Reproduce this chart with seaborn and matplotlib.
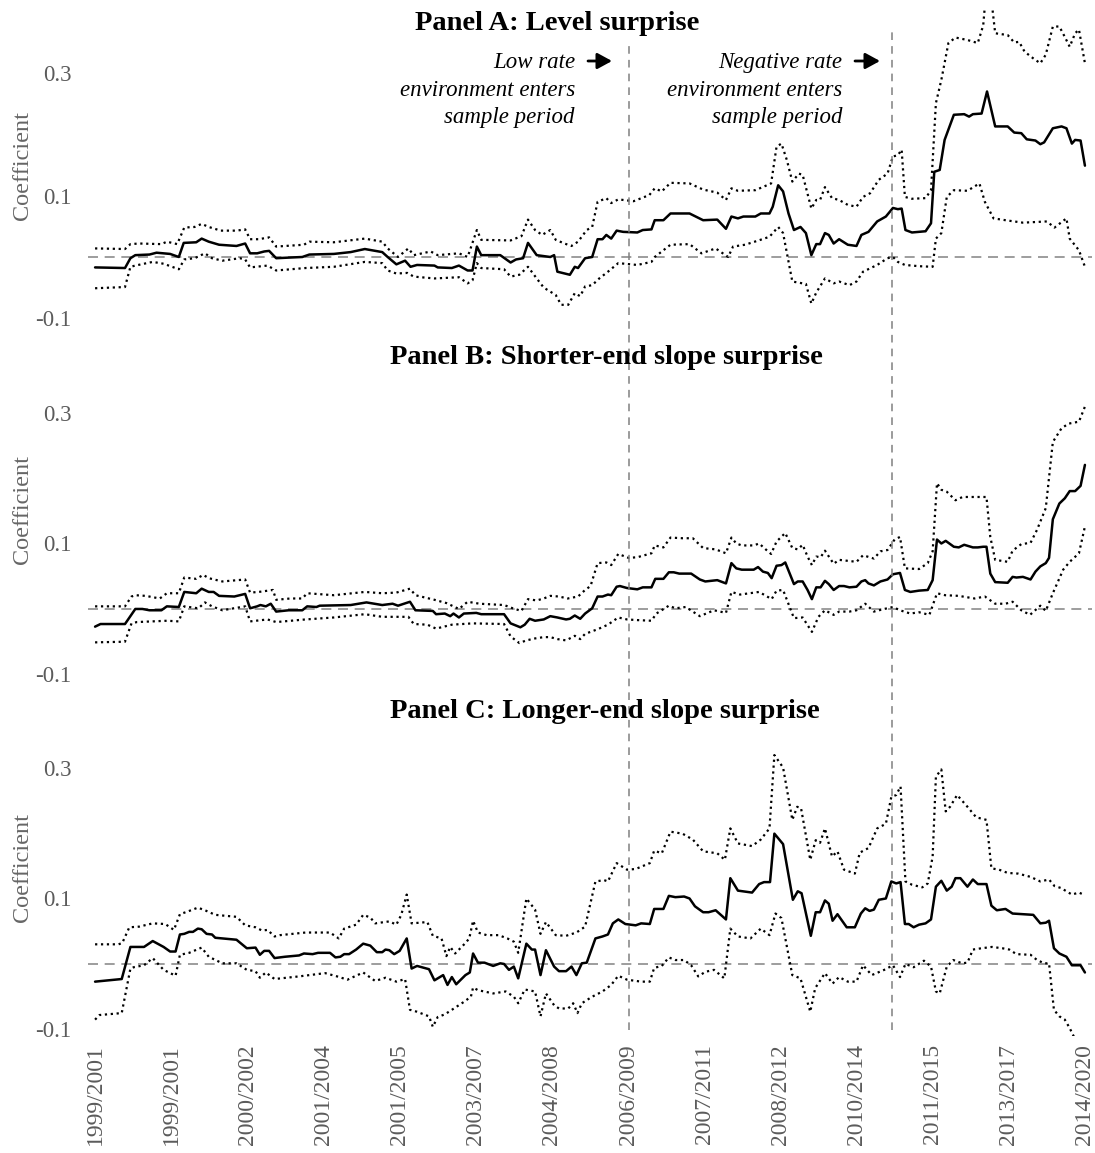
import numpy as np
import pandas as pd
import matplotlib
matplotlib.use("Agg")
import matplotlib.pyplot as plt
import seaborn as sns

sns.set_theme(style="white")
plt.rcParams["font.family"] = ["Liberation Serif", "DejaVu Serif"]

# rolling-window labels, one every 14 windows
tick_labels = ["1999/2001", "1999/2001", "2000/2002", "2001/2004", "2001/2005",
               "2003/2007", "2004/2008", "2006/2009", "2007/2011", "2008/2012",
               "2010/2014", "2011/2015", "2013/2017", "2014/2020"]
tick_pos = list(range(0, 183, 14))
low_rate_at = 98.1
negative_rate_at = 146.5

# (window index, value)
A_coef = [(0,-0.017),(5.5,-0.018),(6.5,-0.002),(7.4,0.003),(10,0.004),(11.3,0.007),(13.8,0.005),(15.4,0.0),
          (16.3,0.023),(18.6,0.024),(19.6,0.030),(20.9,0.025),(22.8,0.020),(26,0.018),(27.6,0.022),(28.5,0.006),
          (29.8,0.006),(31.1,0.009),(32,0.010),(33.3,-0.002),(35.6,-0.001),(38.1,0.0),(39.4,0.004),(43.9,0.005),
          (47,0.008),(49.6,0.013),(52.8,0.008),(53.8,0.0),(55.4,-0.012),(57,-0.006),(58,-0.016),(59.2,-0.013),
          (62.4,-0.014),(63,-0.017),(65.6,-0.018),(66.9,-0.014),(68.5,-0.022),(69.4,-0.022),(70.2,0.017),(71,0.003),
          (74.5,0.003),(76.4,-0.009),(77.4,-0.004),(78.7,-0.002),(79.6,0.023),(81.2,0.003),(83.7,0.0),(84.4,0.003),
          (85,-0.024),(87.3,-0.029),(88.2,-0.016),(88.8,-0.018),(90.1,-0.002),(91.4,0.0),(92.4,0.029),(93.3,0.029),
          (94,0.036),(94.9,0.030),(95.9,0.043),(97.1,0.041),(99.7,0.040),(100.7,0.044),(102.3,0.045),(102.9,0.060),
          (104.5,0.060),(105.8,0.071),(109.3,0.071),(111.8,0.060),(114.4,0.061),(116,0.046),(117,0.066),(118.2,0.063),
          (119.2,0.066),(121.4,0.066),(122.4,0.071),(124,0.071),(124.6,0.082),(125.6,0.117),(126.5,0.107),(127.5,0.071),
          (128.5,0.044),(129.7,0.049),(130.7,0.039),(131.7,0.003),(132.6,0.021),(133.3,0.021),(134.2,0.039),(134.9,0.036),
          (135.8,0.022),(136.8,0.029),(138.4,0.020),(140,0.018),(140.9,0.036),(142.2,0.041),(143.8,0.058),(145.4,0.066),
          (146.7,0.080),(147.6,0.078),(148.3,0.079),(149,0.044),(150.2,0.040),(152.7,0.042),(153.7,0.055),(154.3,0.139),
          (155.3,0.142),(156.2,0.191),(157.9,0.232),(159.8,0.233),(160.7,0.229),(161.4,0.233),(163,0.234),(164,0.270),
          (165.5,0.213),(167.8,0.213),(169,0.203),(170.3,0.202),(171.3,0.192),(172.9,0.190),(173.8,0.184),(174.5,0.187),
          (176.1,0.210),(177.7,0.213),(178.6,0.210),(179.6,0.185),(180.2,0.191),(181.2,0.190),(182,0.149)]
A_hi = [(0,0.014),(5.5,0.013),(6.5,0.021),(8.1,0.022),(12.2,0.021),(13.2,0.025),(15.1,0.021),(16.4,0.048),
        (18.3,0.049),(19.6,0.054),(20.9,0.049),(23.1,0.043),(26,0.043),(27.6,0.045),(28.5,0.029),(30.1,0.029),
        (32,0.032),(33.3,0.017),(38.4,0.020),(39.4,0.025),(43.9,0.024),(49.6,0.030),(52.8,0.025),(53.8,0.014),
        (55.7,0.0),(57.6,0.014),(58.6,0.003),(61.7,0.009),(63,0.003),(66.9,0.006),(68.5,0.0),(70.2,0.044),(71,0.028),
        (76.4,0.027),(78.4,0.034),(79.6,0.061),(80.9,0.044),(82.2,0.036),(83.7,0.044),(84.7,0.028),(86.3,0.022),
        (87.6,0.018),(88.8,0.025),(90.4,0.044),(91.4,0.049),(92.4,0.090),(94,0.096),(94.9,0.088),(96.2,0.094),
        (99,0.091),(101.9,0.101),(102.9,0.112),(104.2,0.107),(105.8,0.121),(109.3,0.120),(111.8,0.110),(114.4,0.105),
        (116,0.093),(117,0.112),(118.2,0.108),(121.4,0.109),(123,0.115),(124.3,0.120),(125.3,0.180),(126.2,0.185),
        (127.2,0.158),(128.2,0.123),(129.4,0.136),(130.1,0.134),(131.7,0.079),(132.6,0.093),(133.3,0.093),(134.2,0.114),
        (135.5,0.096),(136.8,0.093),(138.4,0.085),(140,0.082),(141.2,0.098),(142.5,0.104),(144.1,0.126),(145.7,0.136),
        (146.7,0.164),(147.6,0.166),(148.3,0.175),(148.9,0.098),(150.2,0.095),(152.7,0.096),(153.7,0.109),(154.6,0.251),
        (155.6,0.289),(156.9,0.349),(158.2,0.358),(160.4,0.354),(162.3,0.349),(163.3,0.378),(163.8,0.43),(164.8,0.42),
        (165.5,0.365),(167.8,0.362),(169,0.350),(169.9,0.351),(170.9,0.335),(172.5,0.324),(173.8,0.316),(174.8,0.330),
        (176.1,0.376),(177.3,0.376),(178.3,0.359),(179.2,0.343),(180.2,0.365),(180.9,0.371),(182,0.316)]
A_lo = [(0,-0.051),(5.5,-0.049),(6.5,-0.016),(7.4,-0.014),(10.6,-0.008),(12.6,-0.011),(15.4,-0.020),(16.4,-0.004),
        (18.3,-0.002),(20.2,0.006),(21.5,-0.002),(23.4,-0.006),(26.6,-0.002),(27.6,-0.004),(28.5,-0.017),(31.7,-0.014),
        (33.3,-0.022),(38.7,-0.018),(43.9,-0.016),(49.6,-0.008),(52.8,-0.010),(53.8,-0.022),(55.4,-0.027),(57.4,-0.026),
        (58.6,-0.032),(62.4,-0.035),(66.9,-0.033),(68.5,-0.043),(69.4,-0.038),(70.2,-0.010),(71,-0.018),(75.2,-0.020),
        (76.4,-0.032),(78,-0.029),(79.6,-0.016),(81.2,-0.035),(82.5,-0.050),(84.7,-0.062),(85.7,-0.078),(87,-0.078),
        (88.2,-0.059),(89.2,-0.064),(90.1,-0.048),(91.4,-0.046),(92.7,-0.035),(94.3,-0.024),(96.2,-0.010),(99.7,-0.013),
        (102.3,-0.008),(102.9,0.0),(105.8,0.020),(109.3,0.021),(111.5,0.006),(114.1,0.014),(116.4,0.0),(117.3,0.017),
        (119.5,0.020),(122,0.027),(124,0.033),(125.6,0.049),(126.5,0.039),(128.2,-0.040),(130.7,-0.044),(131.7,-0.076),
        (132.6,-0.058),(134.2,-0.035),(135.8,-0.043),(136.8,-0.040),(138.7,-0.046),(140,-0.040),(141.2,-0.024),
        (143.8,-0.013),(145.7,-0.002),(146.7,0.0),(147.6,-0.008),(148.9,-0.013),(151.5,-0.015),(154,-0.016),(154.6,0.030),
        (155.6,0.039),(156.6,0.098),(157.9,0.109),(160.4,0.108),(162.6,0.120),(163.6,0.090),(165.2,0.063),(167.4,0.060),
        (170.6,0.056),(175,0.058),(176.4,0.048),(178.6,0.063),(179.2,0.030),(180.9,0.011),(182,-0.016)]

B_coef = [(0,-0.027),(1,-0.023),(5.5,-0.023),(6.5,-0.011),(7.4,0.0),(8.7,0.0),(10,-0.002),(12.2,-0.002),(13.2,0.004),
          (15.4,0.003),(16.4,0.026),(18.6,0.024),(19.6,0.031),(20.9,0.026),(21.8,0.026),(22.8,0.020),(25.6,0.019),
          (27.6,0.023),(28.5,0.001),(29.8,0.004),(30.4,0.006),(31.4,0.004),(32.3,0.008),(33.3,-0.004),(35.6,-0.002),
          (38.1,-0.002),(39,0.004),(40.7,0.003),(41.3,0.005),(47,0.006),(49.9,0.010),(52.8,0.006),(54.7,0.008),
          (55.7,0.005),(57.9,0.011),(58.9,-0.002),(62.1,-0.003),(62.7,-0.008),(64.3,-0.007),(65.3,-0.011),(65.9,-0.007),
          (66.9,-0.013),(67.8,-0.007),(70.1,-0.006),(71,-0.008),(75.2,-0.008),(76.4,-0.022),(78.2,-0.028),(79,-0.024),
          (79.9,-0.015),(80.9,-0.018),(82.5,-0.016),(83.7,-0.011),(85,-0.013),(86.6,-0.016),(87.3,-0.015),(88.2,-0.010),
          (89.2,-0.015),(90.1,-0.007),(91.4,0.001),(92.4,0.019),(93.3,0.019),(94.3,0.022),(94.9,0.021),(95.9,0.034),
          (96.5,0.035),(97.8,0.032),(99.7,0.030),(100.7,0.033),(102.3,0.033),(103,0.046),(104.5,0.046),(105.5,0.056),
          (106.4,0.056),(107.4,0.054),(109.6,0.054),(111.2,0.045),(112.2,0.042),(114.4,0.044),(116,0.039),(117,0.070),
          (117.9,0.062),(118.9,0.060),(121.1,0.060),(121.9,0.064),(122.8,0.057),(123.7,0.055),(124.4,0.047),(125.3,0.066),
          (126.2,0.067),(126.9,0.071),(128.5,0.038),(129.2,0.042),(130.1,0.042),(131,0.029),(131.8,0.015),(132.6,0.033),
          (133.4,0.033),(134.2,0.043),(134.9,0.038),(135.8,0.029),(136.8,0.035),(137.7,0.035),(138.7,0.033),(140,0.034),
          (140.9,0.042),(141.6,0.044),(142.2,0.039),(143.2,0.036),(144.4,0.042),(145.7,0.045),(146.7,0.053),(148,0.055),
          (148.9,0.029),(149.9,0.026),(151.5,0.028),(153.1,0.029),(154,0.044),(154.8,0.106),(155.6,0.100),(156.4,0.104),
          (157.9,0.095),(158.8,0.094),(159.8,0.098),(161.4,0.094),(162.3,0.094),(163.3,0.095),(163.9,0.095),(164.6,0.054),
          (165.5,0.041),(167.8,0.040),(168.7,0.049),(169.4,0.048),(170.6,0.049),(172,0.045),(172.9,0.057),(173.8,0.065),
          (174.8,0.070),(175.4,0.078),(176.1,0.137),(177.3,0.161),(178.3,0.169),(179.2,0.180),(180.2,0.180),(181.2,0.188),
          (182,0.220)]
B_hi = [(0,0.004),(5.5,0.004),(6.7,0.019),(7.4,0.021),(9.3,0.020),(11.9,0.016),(13.2,0.024),(15.4,0.024),(16.4,0.048),
        (18.6,0.046),(19.9,0.052),(20.9,0.047),(23.4,0.042),(27.6,0.045),(28.5,0.025),(30.1,0.026),(32.7,0.029),
        (33.3,0.014),(35.9,0.016),(38.1,0.016),(39,0.024),(43.9,0.021),(49.6,0.026),(52.8,0.024),(55.4,0.025),(57.9,0.031),
        (58.9,0.021),(62.4,0.014),(64.6,0.009),(66.9,0.0),(68.5,0.011),(70.7,0.008),(75.2,0.006),(76.8,0.001),(78.4,-0.003),
        (79.6,0.015),(81.2,0.013),(82.5,0.016),(83.7,0.020),(85.3,0.019),(86.9,0.016),(88.8,0.019),(90.1,0.029),(91.1,0.035),
        (92.4,0.070),(94,0.071),(94.9,0.067),(96.2,0.084),(98.1,0.078),(99.7,0.079),(102.3,0.085),(102.9,0.097),(104.5,0.094),
        (105.8,0.109),(108,0.108),(109.9,0.108),(111.8,0.093),(114.1,0.091),(116,0.085),(117,0.109),(117.9,0.100),
        (118.9,0.097),(121.1,0.097),(122.1,0.100),(123.3,0.091),(124.3,0.084),(125.3,0.103),(126.9,0.116),(128.2,0.093),
        (129.2,0.091),(130.1,0.098),(131,0.080),(131.8,0.067),(132.6,0.080),(133.4,0.079),(134.2,0.089),(135.8,0.069),
        (136.8,0.075),(140,0.072),(141.2,0.082),(143.2,0.077),(144.4,0.088),(145.7,0.090),(147,0.106),(148,0.110),
        (148.9,0.062),(151.5,0.061),(153.1,0.070),(154,0.088),(154.8,0.192),(155.6,0.182),(156.6,0.179),(158.2,0.166),
        (159.5,0.171),(163.9,0.171),(164.6,0.110),(165.5,0.075),(167.8,0.072),(168.7,0.089),(170.3,0.099),(172,0.101),
        (173.2,0.121),(174.8,0.154),(176.1,0.255),(177.7,0.276),(179,0.283),(180.9,0.286),(182,0.309)]
B_lo = [(0,-0.051),(5.5,-0.050),(6.7,-0.022),(7.7,-0.020),(13.2,-0.018),(15.4,-0.019),(16.4,0.004),(19,0.001),
        (20.2,0.010),(21.5,0.004),(23.4,-0.002),(27.6,0.004),(28.5,-0.019),(31.7,-0.016),(33.3,-0.020),(38.7,-0.016),
        (43.9,-0.013),(49.6,-0.008),(52.8,-0.012),(57.6,-0.012),(58.6,-0.023),(61.1,-0.024),(62.7,-0.030),(65.6,-0.024),
        (69.4,-0.022),(75.2,-0.023),(76.4,-0.042),(78,-0.052),(79.3,-0.048),(80.9,-0.045),(82.5,-0.043),(83.7,-0.043),
        (85,-0.046),(86.6,-0.048),(88.2,-0.041),(89.2,-0.046),(90.1,-0.038),(92.4,-0.031),(94.3,-0.024),(96.2,-0.013),
        (97.8,-0.016),(99.7,-0.017),(102.3,-0.018),(103.2,-0.007),(105.5,0.005),(106.7,0.001),(108.6,0.003),(111.2,-0.011),
        (113.8,-0.002),(116,-0.006),(117,0.026),(118.6,0.022),(122.1,0.026),(124.4,0.015),(125.3,0.028),(126.5,0.029),
        (128.5,-0.014),(130.1,-0.013),(131.8,-0.035),(133,-0.012),(134.2,-0.002),(135.8,-0.009),(136.8,-0.004),
        (138.7,-0.004),(140,-0.002),(141.6,0.008),(143.2,-0.004),(145.1,0.0),(146.7,0.003),(148,-0.002),(149.9,-0.007),
        (151.5,-0.005),(153.4,-0.009),(154.8,0.024),(156.3,0.021),(158.8,0.020),(161.7,0.016),(163.6,0.019),(165.5,0.008),
        (167.4,0.008),(168.7,0.011),(170.3,-0.002),(171.9,-0.009),(173.8,0.005),(174.8,-0.003),(176.1,0.024),(178,0.060),
        (179.2,0.072),(180.9,0.085),(182,0.126)]

C_coef = [(0,-0.027),(4.9,-0.023),(6.5,0.026),(9,0.026),(10.6,0.035),(12.6,0.026),(13.8,0.019),(14.8,0.019),
          (15.6,0.045),(16.4,0.046),(17.3,0.049),(18,0.049),(18.9,0.054),(19.6,0.053),(20.5,0.046),(21.5,0.045),
          (22.1,0.040),(23.4,0.039),(26,0.037),(27.9,0.024),(29.5,0.025),(30.3,0.014),(31.1,0.020),(32,0.020),(33,0.009),
          (34.9,0.011),(37.5,0.013),(38.4,0.016),(40,0.015),(41,0.017),(43.2,0.017),(44.2,0.010),(45.1,0.011),(45.8,0.015),
          (46.7,0.015),(48,0.022),(49.3,0.031),(50.6,0.028),(51.8,0.018),(52.8,0.018),(53.4,0.022),(54.1,0.021),(55,0.015),
          (56,0.020),(57.3,0.039),(58.2,-0.007),(59.2,-0.003),(61.4,-0.008),(62.4,-0.025),(64,-0.017),(64.8,-0.032),
          (65.6,-0.020),(66.4,-0.031),(68.1,-0.017),(68.9,-0.013),(69.5,0.016),(70.4,0.002),(71.6,0.002),(73.2,-0.003),
          (74.5,0.001),(75.2,0.0),(76.1,-0.009),(77,-0.004),(77.8,-0.022),(79.3,0.031),(80.3,0.022),(80.9,0.022),
          (81.9,-0.017),(82.9,0.021),(84.4,-0.004),(85.3,-0.011),(86.6,-0.011),(87.6,-0.004),(88.5,-0.017),(89.5,0.001),
          (90.4,0.002),(92,0.039),(93.3,0.042),(94.3,0.045),(95.2,0.062),(96.2,0.068),(97.5,0.061),(99.4,0.059),
          (100.4,0.062),(102,0.061),(102.8,0.084),(104.5,0.084),(105.5,0.104),(106.7,0.102),(108.3,0.103),(109.3,0.100),
          (110.3,0.088),(111.8,0.079),(112.8,0.079),(114.1,0.082),(116,0.068),(116.8,0.131),(118.2,0.112),(120.8,0.109),
          (122.1,0.122),(123,0.125),(124.1,0.125),(124.9,0.199),(126.5,0.183),(128.3,0.098),(129.2,0.111),(129.9,0.108),
          (131.6,0.043),(132.5,0.079),(133.3,0.079),(134.2,0.097),(134.9,0.092),(135.6,0.066),(136.5,0.076),(138.2,0.056),
          (139.7,0.056),(140.8,0.077),(141.6,0.085),(142.4,0.081),(143.2,0.083),(144.1,0.098),(145.4,0.100),(146.4,0.126),
          (147.3,0.123),(148.1,0.125),(148.9,0.061),(149.6,0.061),(150.5,0.056),(151.5,0.060),(152.7,0.062),(153.7,0.068),
          (154.6,0.118),(155.6,0.127),(156.6,0.112),(157.5,0.118),(158.2,0.131),(159.1,0.131),(160.4,0.118),(161.4,0.129),
          (162.3,0.122),(163.9,0.122),(164.8,0.089),(165.8,0.082),(167.4,0.084),(168.7,0.077),(170.6,0.076),(172.5,0.075),
          (173.8,0.062),(174.8,0.063),(175.4,0.066),(176.3,0.024),(177.3,0.016),(178.6,0.011),(179.6,-0.002),(181.2,-0.002),
          (182,-0.013)]
C_hi = [(0,0.030),(4.3,0.030),(5,0.032),(6.3,0.056),(8.1,0.057),(10.6,0.062),(12.9,0.061),(14.5,0.052),(15.6,0.076),
        (17,0.080),(18.9,0.086),(20.2,0.082),(22.1,0.075),(26,0.072),(27.6,0.059),(29.5,0.056),(30.7,0.051),(31.7,0.052),
        (33,0.042),(34,0.044),(38.7,0.048),(43.2,0.048),(44.8,0.039),(45.8,0.054),(48,0.060),(49.3,0.075),(50.6,0.071),
        (51.5,0.062),(54.1,0.065),(55.4,0.060),(56.3,0.075),(57.3,0.106),(58.2,0.062),(61.1,0.064),(62.1,0.043),
        (63.7,0.039),(64.6,0.012),(65.3,0.026),(66.2,0.016),(68.1,0.032),(68.8,0.039),(69.5,0.066),(70.4,0.048),(72,0.044),
        (74.2,0.044),(75.8,0.039),(77,0.034),(77.8,0.017),(79.3,0.100),(80.9,0.083),(81.9,0.046),(82.9,0.064),(84.7,0.044),
        (86.6,0.043),(88.5,0.048),(90.1,0.057),(92,0.126),(93.6,0.128),(94.3,0.126),(95.9,0.154),(97.8,0.144),(99.4,0.145),
        (102,0.154),(102.8,0.173),(104.2,0.169),(105.8,0.202),(108,0.199),(109.9,0.190),(111.8,0.172),(114.4,0.169),
        (115.8,0.159),(116.8,0.207),(118.2,0.184),(120.8,0.180),(122.4,0.190),(124,0.207),(124.9,0.319),(126.5,0.300),
        (128.2,0.220),(129.1,0.240),(129.8,0.238),(131.5,0.159),(132.5,0.189),(133.3,0.185),(134.2,0.207),(135.5,0.164),
        (136.5,0.172),(137.7,0.144),(139.7,0.138),(140.6,0.170),(142.2,0.177),(143.8,0.207),(145.4,0.214),(146.4,0.255),
        (147.3,0.258),(148.1,0.271),(149,0.126),(150.2,0.121),(152.1,0.117),(153.1,0.123),(154,0.164),(154.6,0.286),
        (155.6,0.297),(156.4,0.233),(157.2,0.240),(158.5,0.258),(160.4,0.240),(162,0.224),(163.9,0.220),(164.8,0.146),
        (166.2,0.144),(167.8,0.139),(169.7,0.138),(172,0.133),(173.8,0.126),(175.4,0.129),(176.4,0.119),(177.6,0.116),
        (179.6,0.106),(180.9,0.109),(182,0.105)]
C_lo = [(0,-0.085),(0.8,-0.078),(4.9,-0.075),(6.5,-0.007),(7.1,-0.005),(9,-0.002),(10.6,0.009),(12.6,-0.009),
        (14.8,-0.018),(15.6,0.014),(17.3,0.017),(19.6,0.025),(20.9,0.011),(23.4,0.001),(26,0.001),(27.9,-0.009),
        (29.5,-0.011),(30.3,-0.021),(31.4,-0.013),(33,-0.023),(37.5,-0.019),(42.3,-0.014),(44.5,-0.019),(46.4,-0.024),
        (49.3,-0.013),(51.5,-0.026),(53.4,-0.021),(55.4,-0.027),(57,-0.023),(57.9,-0.070),(59.2,-0.073),(61.4,-0.080),
        (62.1,-0.096),(63,-0.081),(64.3,-0.077),(65.6,-0.070),(67.8,-0.058),(69.1,-0.050),(69.5,-0.036),(70.4,-0.040),
        (73.2,-0.045),(75.5,-0.042),(77,-0.050),(77.8,-0.060),(79,-0.039),(80.9,-0.042),(81.9,-0.080),(82.9,-0.045),
        (84.4,-0.063),(85.3,-0.068),(87,-0.068),(87.9,-0.060),(88.7,-0.075),(89.5,-0.060),(91.4,-0.050),(93.3,-0.042),
        (94.9,-0.032),(96.2,-0.018),(97.8,-0.024),(100.4,-0.027),(102,-0.027),(102.8,-0.006),(104.2,-0.003),(105.5,0.010),
        (106.7,0.006),(108.3,0.006),(109.6,-0.002),(110.9,-0.019),(112.2,-0.012),(113.8,-0.009),(115.7,-0.022),
        (116.8,0.054),(118.2,0.042),(120.5,0.039),(122.4,0.054),(124,0.044),(125.1,0.077),(126.2,0.070),(128.2,-0.017),
        (129.7,-0.022),(131.5,-0.073),(132.4,-0.037),(134.2,-0.014),(135.6,-0.030),(136.8,-0.020),(138.4,-0.027),
        (140,-0.027),(141.2,-0.002),(142.8,-0.017),(145.1,-0.009),(146.7,-0.002),(148,-0.020),(149,0.0),(150.5,-0.005),
        (152.4,0.005),(153.7,-0.004),(154.6,-0.042),(155.3,-0.045),(156.6,-0.004),(157.8,0.006),(159.4,0.001),
        (160.4,0.002),(161.4,0.022),(163,0.024),(164.9,0.026),(166.8,0.024),(168.1,0.022),(169.4,0.015),(172,0.014),
        (173.2,0.006),(174.5,0.001),(175.4,0.001),(176.3,-0.070),(177.3,-0.080),(178.3,-0.085),(179.2,-0.098),
        (180.2,-0.115),(182,-0.13)]

panels = [
    ("Panel A: Level surprise", A_coef, A_hi, A_lo),
    ("Panel B: Shorter-end slope surprise", B_coef, B_hi, B_lo),
    ("Panel C: Longer-end slope surprise", C_coef, C_hi, C_lo),
]

W, H = 1095, 1153
fig = plt.figure(figsize=(W / 100, H / 100), dpi=100)

# pixel boxes (left, top, right, bottom), y-limits, title centre, label centre
boxes = [(88, 8, 1092, 330), (88, 385, 1092, 681), (88, 740, 1092, 1036)]
ylims = [(-0.1191, 0.4062), (-0.110, 0.342), (-0.110, 0.342)]
title_xy = [(557, 23), (606, 357), (605, 711)]
label_y = [165, 510, 867]

grey_text = "#5b5b5b"
axes = []
for k, (title, coef, hi, lo) in enumerate(panels):
    l, t, r, b = boxes[k]
    ax = fig.add_axes([l / W, 1 - b / H, (r - l) / W, (b - t) / H])
    ax.set_facecolor("none")
    for pts, style, lw in [(hi, ":", 1.6), (lo, ":", 1.6), (coef, "-", 1.8)]:
        df = pd.DataFrame(pts, columns=["window", "value"])
        sns.lineplot(data=df, x="window", y="value", ax=ax, color="black",
                     linestyle=style, linewidth=lw, estimator=None, sort=False)
    ax.axhline(0, color="#8c8c8c", linestyle=(0, (6, 4)), linewidth=1.2, zorder=0)
    ax.set_xlim(-1.3, 183.3)
    ax.set_ylim(*ylims[k])
    ax.set_yticks([0.3, 0.1, -0.1])
    ax.set_yticklabels(["0.3", "0.1", "-0.1"])
    ax.tick_params(axis="y", labelsize=16.5, colors=grey_text, pad=12, length=0)
    ax.set_xlabel("")
    ax.set_ylabel("")
    for s in ax.spines.values():
        s.set_visible(False)
    ax.grid(False)
    if k < 2:
        ax.set_xticks([])
    else:
        ax.set_xticks(tick_pos)
        ax.set_xticklabels(tick_labels, rotation=90)
        ax.tick_params(axis="x", labelsize=17, colors=grey_text, pad=6, length=0)
    fig.text(title_xy[k][0] / W, 1 - title_xy[k][1] / H, title, ha="center", va="center",
             fontsize=20.5, fontweight="bold", color="black")
    fig.text(22.5 / W, 1 - label_y[k] / H, "Coefficient", rotation=90, ha="center", va="center",
             fontsize=17.5, color="#666666")
    axes.append(ax)

# vertical markers spanning all three panels
ax_c = axes[2]
bot = (1036 - 1030) / 296
for xv, top_px in [(low_rate_at, 40), (negative_rate_at, 30)]:
    ax_c.axvline(xv, ymin=bot, ymax=(1036 - top_px) / 296, clip_on=False,
                 color="#808080", linestyle=(0, (5, 4)), linewidth=1.1)

# annotations
notes = [(575, ["Low rate", "environment enters", "sample period"], (588, 612)),
         (842, ["Negative rate", "environment enters", "sample period"], (855, 880))]
for right, lines, (x0, x1) in notes:
    for line, base in zip(lines, [68, 96, 123]):
        fig.text(right / W, 1 - base / H, line, ha="right", va="baseline",
                 fontsize=16.5, style="italic", color="black")
    axes[0].annotate("", xy=(x1 / W, 1 - 61 / H), xytext=(x0 / W, 1 - 61 / H),
                     xycoords="figure fraction", textcoords="figure fraction",
                     arrowprops=dict(arrowstyle="-|>,head_length=0.55,head_width=0.3",
                                     lw=2.0, color="black", shrinkA=0, shrinkB=0,
                                     mutation_scale=16))

fig.savefig("out.png", dpi=100)
